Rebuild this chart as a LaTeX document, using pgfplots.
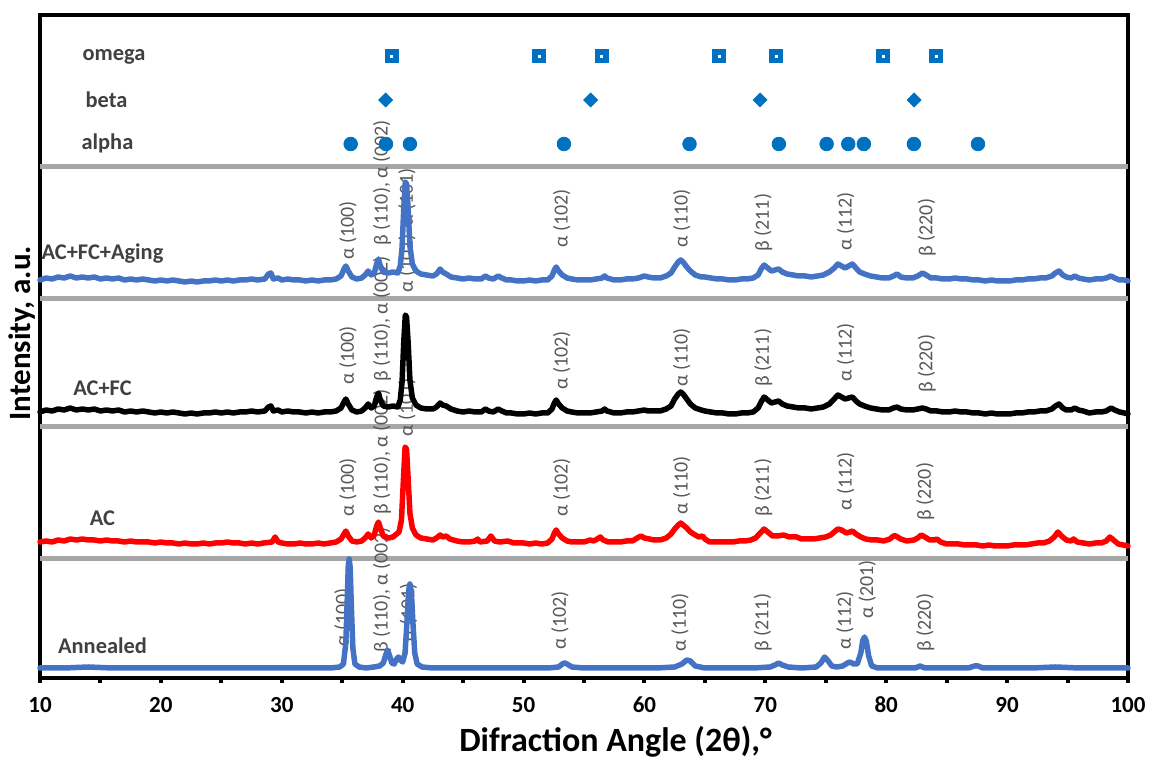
\documentclass[border=0pt]{standalone}
\usepackage{fontspec}
\setmainfont{Carlito}
\usepackage{pgfplots}
\pgfplotsset{compat=1.18}
\definecolor{xblue}{HTML}{4472C4}
\definecolor{xred}{HTML}{FF0000}
\definecolor{mk}{HTML}{0070C0}
\definecolor{sep}{HTML}{A6A6A6}
\definecolor{lab}{HTML}{404040}
\definecolor{pk}{HTML}{595959}
\tikzset{
  pl/.style={rotate=90, anchor=west, inner sep=0pt, text=pk, font=\fontsize{10}{12}\selectfont},
  sl/.style={font=\bfseries\fontsize{11.2}{13}\selectfont, text=lab, inner sep=0pt},
}
\begin{document}
\begin{tikzpicture}
\path[use as bounding box] (0,0) rectangle (575pt,379.5pt);
\begin{axis}[
  at={(20pt,40.5pt)}, anchor=south west,
  scale only axis, width=544pt, height=331.5pt,
  xmin=10, xmax=100, ymin=0, ymax=663,
  clip=false,
  xtick={10,20,...,100}, minor xtick={15,25,...,95},
  ytick=\empty,
  xtick pos=bottom, tick align=outside,
  major tick length=2.5pt, minor tick length=2.5pt,
  tick style={black, line width=2pt},
  axis line style={line width=2pt},
  /pgf/number format/assume math mode=true,
  xticklabel style={font=\bfseries\fontsize{11.5}{13}\selectfont, yshift=-3.5pt},
  xlabel={Difraction Angle (2θ),°},
  xlabel style={font=\bfseries\fontsize{17}{19}\selectfont, at={(axis description cs:0.529,0)}, anchor=center, yshift=-32pt},
  ylabel={Intensity, a.u.},
  ylabel style={font=\bfseries\fontsize{15.5}{18}\selectfont, at={(axis description cs:-0.0165,0.52)}, anchor=center},
]
% separators
\addplot[sep, line width=2.5pt] coordinates {(10,511) (100,511)};
\addplot[sep, line width=2.5pt] coordinates {(10,379) (100,379)};
\addplot[sep, line width=2.5pt] coordinates {(10,251) (100,251)};
\addplot[sep, line width=2.5pt] coordinates {(10,119) (100,119)};

% peak labels
\node[pl] at (axis cs:35.48,418) {α (100)};
\node[pl] at (axis cs:38.29,432) {β (110), α (002)};
\node[pl] at (axis cs:40.36,451) {α (101)};
\node[pl] at (axis cs:40.36,385) {α (101)};
\node[pl] at (axis cs:53.16,430) {α (102)};
\node[pl] at (axis cs:63.08,430) {α (110)};
\node[pl] at (axis cs:69.83,426) {β (211)};
\node[pl] at (axis cs:76.65,427) {α (112)};
\node[pl] at (axis cs:83.35,421) {β (220)};

\node[pl] at (axis cs:35.48,293) {α (100)};
\node[pl] at (axis cs:38.29,296) {β (110), α (002)};
\node[pl] at (axis cs:40.36,241) {α (101)};
\node[pl] at (axis cs:53.16,288) {α (102)};
\node[pl] at (axis cs:63.08,291) {α (110)};
\node[pl] at (axis cs:69.83,291) {β (211)};
\node[pl] at (axis cs:76.65,296) {α (112)};
\node[pl] at (axis cs:83.35,285) {β (220)};

\node[pl] at (axis cs:35.48,161) {α (100)};
\node[pl] at (axis cs:38.29,163) {β (110), α (002)};
\node[pl] at (axis cs:53.16,161) {α (102)};
\node[pl] at (axis cs:63.08,163) {α (110)};
\node[pl] at (axis cs:69.83,161) {β (211)};
\node[pl] at (axis cs:76.65,167) {α (112)};
\node[pl] at (axis cs:83.23,157) {β (220)};

\node[pl] at (axis cs:35.05,31) {α (100)};
\node[pl] at (axis cs:38.29,25) {β (110), α (002)};
\node[pl] at (axis cs:40.47,36) {α (101)};
\node[pl] at (axis cs:53.01,28) {α (102)};
\node[pl] at (axis cs:62.94,26) {α (110)};
\node[pl] at (axis cs:69.78,26) {β (211)};
\node[pl] at (axis cs:76.59,28) {α (112)};
\node[pl] at (axis cs:78.43,59) {α (201)};
\node[pl] at (axis cs:83.23,26) {β (220)};

% sample & phase labels
\node[sl] at (axis cs:15.17,424) {AC+FC+Aging};
\node[sl] at (axis cs:15.17,290) {AC+FC};
\node[sl] at (axis cs:15.17,160) {AC};
\node[sl] at (axis cs:15.17,32) {Annealed};
\node[sl] at (axis cs:16.12,621) {omega};
\node[sl] at (axis cs:15.5,578) {beta};
\node[sl] at (axis cs:15.58,535) {alpha};

% phase markers
\addplot[only marks, mark=*, mark size=3.4pt, mark options={draw=mk, fill=mk}] coordinates {
(35.70,534) (38.62,534) (40.60,534) (53.34,534) (63.73,534) (71.12,534) (75.07,534) (76.86,534) (78.15,534) (82.29,534) (87.59,534)};
\addplot[only marks, mark=square*, mark size=2.45pt, mark options={draw=mk, fill=mk, rotate=45, rounded corners=0.8pt}] coordinates {
(38.59,578) (55.55,578) (69.56,578) (82.30,578)};
\addplot[only marks, mark=square*, mark size=3.3pt, mark options={draw=mk, fill=mk, rounded corners=1pt}] coordinates {
(39.09,622) (51.28,622) (56.46,622) (66.17,622) (70.88,622) (79.73,622) (84.12,622)};
\addplot[only marks, mark=square*, mark size=0.5pt, mark options={draw=white, fill=white}] coordinates {
(39.09,622) (51.28,622) (56.46,622) (66.17,622) (70.88,622) (79.73,622) (84.12,622)};

% AC+FC+Aging
\addplot[xblue, line width=2.75pt, line join=round, line cap=round] coordinates {
(10,398) (10.5,400) (11,399) (11.5,401) (12,400) (12.5,402) (13,400) (13.5,401) (14,400) (14.5,401) (15,399) (15.5,400) (16,399) (16.5,400) (17,398) (17.5,399) (18,398) (18.5,399) (19,398) (19.5,397) (20,398) (20.5,397) (21,398) (21.5,397) (22,396) (22.5,397) (23,396) (23.5,397) (24,397) (24.5,398) (25,397) (25.5,398) (26,397) (26.5,398) (27,398) (27.5,399) (28,398) (28.6,399) (28.9,404) (29.1,405) (29.3,399) (29.7,400) (30,398) (30.5,399) (31,398) (31.5,398) (32,397) (32.5,398) (33,397) (33.5,398) (34,398) (34.5,399) (34.9,402) (35.15,409) (35.3,412) (35.5,407) (35.8,401) (36.2,399) (36.6,400) (36.9,403) (37.15,407) (37.4,403) (37.65,405) (37.85,414) (38.0,419) (38.15,412) (38.4,406) (38.8,405) (39.2,406) (39.6,405) (39.8,412) (39.95,430) (40.1,472) (40.22,496) (40.32,494) (40.45,470) (40.6,432) (40.8,414) (41.1,407) (41.5,404) (42,403) (42.5,402) (42.8,404) (43.1,409) (43.3,406) (43.6,404) (44,401) (44.5,400) (45,399) (45.5,400) (46,399) (46.5,399) (46.85,402) (47.1,400) (47.5,399) (47.9,402) (48.2,400) (48.6,398) (49,398) (49.5,397) (50,397) (50.5,398) (51,397) (51.5,398) (52,398) (52.35,402) (52.55,408) (52.7,411) (52.9,407) (53.2,403) (53.6,400) (54,399) (54.5,398) (55,398) (55.5,398) (56,399) (56.5,400) (56.7,402) (56.9,400) (57.5,398) (58,398) (58.5,399) (59,399) (59.5,400) (60.0,402) (60.3,401) (60.8,400) (61.3,400) (61.8,402) (62.2,405) (62.5,411) (62.8,416) (63.0,418) (63.2,416) (63.5,411) (63.8,407) (64.2,403) (64.7,401) (65,401) (65.5,400) (66,399) (66.5,399) (67,398) (67.5,398) (68,399) (68.5,399) (69,400) (69.4,403) (69.65,409) (69.9,413) (70.2,410) (70.5,407) (70.8,408) (71.1,409) (71.4,406) (71.8,404) (72.3,403) (72.8,402) (73.3,402) (73.8,401) (74.3,402) (74.8,403) (75.3,406) (75.7,410) (76.0,414) (76.3,412) (76.6,410) (76.9,412) (77.2,414) (77.5,410) (77.8,406) (78.2,404) (78.7,402) (79.2,401) (79.7,400) (80.2,400) (80.6,402) (80.9,404) (81.2,401) (81.7,400) (82.2,400) (82.6,402) (83.0,405) (83.3,403) (83.7,400) (84.2,400) (84.7,399) (85.2,399) (85.7,400) (86.2,399) (86.7,399) (87.2,398) (87.7,398) (88.2,397) (88.7,398) (89.2,397) (89.7,397) (90.2,397) (90.7,398) (91.2,398) (91.7,399) (92.2,399) (92.7,400) (93.2,400) (93.7,402) (94.0,405) (94.3,407) (94.6,403) (94.9,401) (95.3,400) (95.6,402) (95.9,400) (96.3,399) (96.8,398) (97.3,399) (97.8,399) (98.2,400) (98.6,402) (98.9,400) (99.3,398) (99.7,398) (100,397)};

% AC+FC
\addplot[black, line width=2.75pt, line join=round, line cap=round] coordinates {
(10,266) (10.5,268) (11,267) (11.5,269) (12,268) (12.5,270) (13,268) (13.5,269) (14,268) (14.5,269) (15,267) (15.5,268) (16,267) (16.5,268) (17,266) (17.5,267) (18,266) (18.5,267) (19,266) (19.5,265) (20,266) (20.5,265) (21,266) (21.5,265) (22,264) (22.5,265) (23,264) (23.5,265) (24,265) (24.5,266) (25,265) (25.5,266) (26,265) (26.5,266) (27,266) (27.5,267) (28,266) (28.6,267) (28.9,271) (29.1,272) (29.3,267) (29.7,268) (30,266) (30.5,267) (31,266) (31.5,266) (32,265) (32.5,266) (33,265) (33.5,266) (34,266) (34.5,267) (34.9,270) (35.15,276) (35.3,279) (35.5,274) (35.8,268) (36.2,266) (36.6,267) (36.9,270) (37.15,274) (37.4,270) (37.65,272) (37.85,281) (38.0,285) (38.15,278) (38.4,272) (38.8,271) (39.2,272) (39.6,271) (39.8,278) (39.95,296) (40.1,338) (40.22,363) (40.32,361) (40.45,336) (40.6,298) (40.8,280) (41.1,273) (41.5,270) (42,269) (42.5,269) (42.8,271) (43.1,275) (43.3,273) (43.6,272) (44,269) (44.5,267) (45,266) (45.5,267) (46,266) (46.5,266) (46.85,269) (47.1,267) (47.5,266) (47.9,269) (48.2,267) (48.6,265) (49,265) (49.5,264) (50,264) (50.5,265) (51,264) (51.5,265) (52,265) (52.35,269) (52.55,275) (52.7,278) (52.9,274) (53.2,270) (53.6,267) (54,266) (54.5,265) (55,265) (55.5,265) (56,266) (56.5,267) (56.7,269) (56.9,267) (57.5,265) (58,265) (58.5,266) (59,266) (59.5,267) (60.0,268) (60.3,267) (60.8,267) (61.3,267) (61.8,269) (62.2,272) (62.5,279) (62.8,284) (63.0,286) (63.2,284) (63.5,279) (63.8,274) (64.2,270) (64.7,268) (65,267) (65.5,266) (66,265) (66.5,265) (67,264) (67.5,264) (68,265) (68.5,265) (69,266) (69.4,270) (69.65,276) (69.9,281) (70.2,278) (70.5,275) (70.8,276) (71.1,277) (71.4,274) (71.8,272) (72.3,271) (72.8,270) (73.3,270) (73.8,269) (74.3,270) (74.8,271) (75.3,274) (75.7,279) (76.0,283) (76.3,281) (76.6,279) (76.9,280) (77.2,281) (77.5,277) (77.8,274) (78.2,272) (78.7,270) (79.2,269) (79.7,268) (80.2,268) (80.6,270) (80.9,271) (81.2,269) (81.7,268) (82.2,268) (82.6,269) (83.0,270) (83.3,269) (83.7,267) (84.2,267) (84.7,266) (85.2,266) (85.7,267) (86.2,266) (86.7,266) (87.2,265) (87.7,265) (88.2,264) (88.7,265) (89.2,264) (89.7,264) (90.2,264) (90.7,265) (91.2,265) (91.7,266) (92.2,266) (92.7,267) (93.2,267) (93.7,269) (94.0,272) (94.3,274) (94.6,270) (94.9,268) (95.3,268) (95.6,270) (95.9,268) (96.3,267) (96.8,265) (97.3,266) (97.8,266) (98.2,267) (98.6,270) (98.9,268) (99.3,266) (99.7,265) (100,264)};

% AC
\addplot[xred, line width=2.75pt, line join=round, line cap=round] coordinates {
(10,136) (10.5,137) (11,136) (11.5,138) (12,137) (12.5,139) (13,138) (13.5,139) (14,138) (14.5,138) (15,137) (15.5,138) (16,137) (16.5,137) (17,136) (17.5,137) (18,136) (18.5,136) (19,136) (19.5,135) (20,136) (20.5,135) (21,135) (21.5,134) (22,135) (22.5,134) (23,134) (23.5,135) (24,134) (24.5,135) (25,135) (25.5,136) (26,135) (26.5,135) (27,134) (27.5,135) (28,134) (28.5,135) (29.2,136) (29.45,141) (29.7,136) (30,135) (30.5,134) (31,134) (31.5,135) (32,134) (32.5,134) (33,135) (33.5,134) (34,135) (34.5,136) (34.9,139) (35.15,144) (35.3,147) (35.5,142) (35.8,137) (36.2,136) (36.6,137) (36.9,140) (37.15,144) (37.4,140) (37.65,143) (37.85,152) (38.0,156) (38.15,150) (38.4,142) (38.8,140) (39.2,141) (39.5,144) (39.7,146) (39.9,158) (40.05,195) (40.2,231) (40.32,229) (40.45,200) (40.6,165) (40.8,150) (41.1,143) (41.5,140) (42,139) (42.5,138) (42.8,140) (43.1,143) (43.3,141) (43.6,142) (43.9,139) (44.5,137) (45,136) (45.5,136) (46.0,137) (46.2,139) (46.4,136) (47.0,137) (47.3,142) (47.6,137) (48,136) (48.7,137) (49.2,135) (50,135) (50.5,134) (51,135) (51.5,134) (52,135) (52.35,139) (52.55,145) (52.7,148) (52.9,144) (53.2,140) (53.6,137) (54,136) (54.5,136) (55,136) (55.5,138) (55.8,137) (56.1,139) (56.35,141) (56.6,138) (57,136) (57.5,136) (58,136) (58.5,137) (59,137) (59.4,140) (59.7,142) (60.0,140) (60.4,139) (60.8,138) (61.3,138) (61.8,140) (62.2,144) (62.5,149) (62.8,153) (63.0,155) (63.2,153) (63.5,150) (63.8,146) (64.2,143) (64.5,141) (64.8,142) (65.0,139) (65.4,136) (65.8,136) (66.3,136) (66.8,136) (67.3,136) (67.8,137) (68.3,137) (68.8,138) (69.2,140) (69.5,144) (69.9,149) (70.2,146) (70.6,142) (71.0,142) (71.5,143) (72.0,141) (72.6,141) (73.0,139) (73.5,139) (74.0,139) (74.5,140) (75.0,141) (75.4,143) (75.7,146) (76.0,149) (76.3,148) (76.7,145) (77.0,146) (77.2,147) (77.5,144) (77.9,141) (78.3,139) (78.8,138) (79.3,138) (79.8,137) (80.3,139) (80.6,142) (80.8,142) (81.2,139) (81.7,137) (82.3,138) (82.6,140) (82.9,143) (83.2,141) (83.6,138) (84.0,138) (84.2,139) (84.5,136) (85,134) (85.5,134) (86,134) (86.5,133) (87,133) (87.5,133) (88,132) (88.5,133) (89,132) (89.5,132) (90,132) (90.5,133) (91,133) (91.5,133) (92,134) (92.5,135) (93,135) (93.5,137) (93.9,141) (94.2,146) (94.5,142) (94.9,138) (95.3,137) (95.5,139) (95.8,136) (96.3,135) (96.8,134) (97.3,135) (97.8,135) (98.2,137) (98.5,141) (98.8,138) (99.2,134) (99.6,133) (100,132)};

% Annealed
\addplot[xblue, line width=2.75pt, line join=round, line cap=round] coordinates {
(10,10) (12,10) (14,11) (16,10) (18,10) (20,10) (22,10) (24,10) (26,10) (28,10) (30,10) (32,10) (34,10) (34.8,11) (35.1,14) (35.3,35) (35.42,80) (35.5,112) (35.58,119) (35.66,110) (35.76,70) (35.88,30) (36.05,14) (36.4,11) (37,10) (37.6,11) (38.1,12) (38.4,15) (38.6,23) (38.75,28) (38.9,23) (39.1,15) (39.3,14) (39.5,19) (39.65,21) (39.8,18) (40.0,16) (40.2,25) (40.35,55) (40.5,88) (40.6,94) (40.72,86) (40.85,55) (41.0,25) (41.2,14) (41.6,11) (42.5,10) (44,10) (46,10) (48,10) (50,10) (52,10) (52.9,11) (53.2,14) (53.4,15) (53.6,14) (54,11) (55,10) (57,10) (59,10) (61,10) (62.5,11) (63.1,14) (63.5,18) (63.8,17) (64.2,12) (65,10) (67,10) (69,10) (70.4,11) (70.8,13) (71.1,15) (71.4,13) (71.9,11) (73,10) (74.2,11) (74.6,15) (74.9,21) (75.2,17) (75.5,12) (75.9,11) (76.4,12) (76.8,15) (77.0,16) (77.3,14) (77.6,14) (77.9,25) (78.05,37) (78.2,41) (78.35,37) (78.55,22) (78.8,12) (79.3,10) (81,10) (82.4,10) (82.8,12) (83.2,10) (85,10) (86.8,10) (87.3,12) (87.6,12) (88,10) (90,10) (92,10) (94,11) (96,10) (98,10) (100,10)};
\end{axis}
\end{tikzpicture}
\end{document}
